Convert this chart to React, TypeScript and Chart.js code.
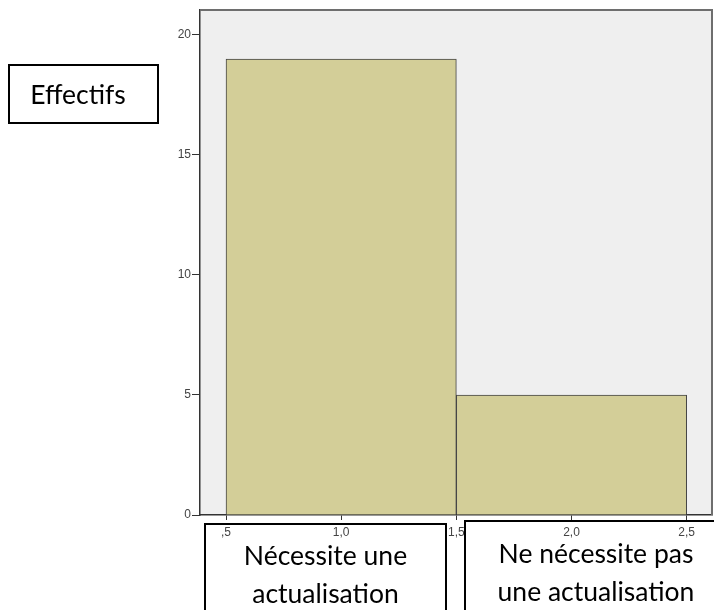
import React, { useEffect, useRef } from "react";
import { Chart, registerables } from "chart.js";

Chart.register(...registerables);

const binCenters = [1, 2];
const counts = [19, 5];
const xTickValues = [0.5, 1, 1.5, 2, 2.5];
const yTickValues = [0, 5, 10, 15, 20];
const xRange = [0.387, 2.61];
const yRange = [0, 21.04];
const yAxisTitle = "Effectifs";
const categoryLabels = [
  ["Nécessite une", "actualisation"],
  ["Ne nécessite pas", "une actualisation"],
];

const fmtX = (v: number) => {
  const s = v.toFixed(1).replace(".", ",");
  return s.startsWith("0") ? s.slice(1) : s;
};

const framePlugin = {
  id: "frame",
  beforeDraw(chart: any) {
    const { ctx, chartArea: a } = chart;
    ctx.save();
    ctx.fillStyle = "#efefef";
    ctx.fillRect(a.left, a.top, a.right - a.left, a.bottom - a.top);
    ctx.restore();
  },
  afterDraw(chart: any) {
    const { ctx, chartArea: a } = chart;
    ctx.save();
    ctx.strokeStyle = "#6e6e6e";
    ctx.lineWidth = 2;
    ctx.beginPath();
    ctx.moveTo(a.left, a.top);
    ctx.lineTo(a.right, a.top);
    ctx.lineTo(a.right, a.bottom);
    ctx.stroke();
    ctx.restore();
  },
};

export default function App() {
  const ref = useRef<HTMLCanvasElement>(null);
  useEffect(() => {
    if (!ref.current) return;
    const tickFont = { family: "Liberation Sans", size: 12 };
    const chart = new Chart(ref.current, {
      type: "bar",
      data: {
        datasets: [
          {
            xAxisID: "xb",
            data: binCenters.map((x, i) => ({ x, y: counts[i] })),
            backgroundColor: "#d3ce98",
            borderColor: "#454545",
            borderWidth: 1,
            barPercentage: 1,
            categoryPercentage: 1,
          },
        ],
      },
      options: {
        animation: false,
        responsive: false,
        layout: { padding: { top: 10, right: 2, left: 0, bottom: 0 } },
        plugins: { legend: { display: false }, tooltip: { enabled: false } },
        scales: {
          xb: {
            type: "linear",
            position: "bottom",
            display: false,
            offset: false,
            min: xRange[0],
            max: xRange[1],
            afterBuildTicks: (s: any) => {
              s.ticks = [];
            },
          },
          x: {
            type: "linear",
            position: "bottom",
            offset: false,
            min: xRange[0],
            max: xRange[1],
            afterBuildTicks: (s: any) => {
              s.ticks = xTickValues.map((v) => ({ value: v }));
            },
            afterFit: (s: any) => {
              s.height = 95;
            },
            grid: {
              display: true,
              offset: false,
              drawOnChartArea: false,
              drawTicks: true,
              tickLength: 5,
              color: "#333",
            },
            border: { display: true, color: "#333", width: 1.5 },
            ticks: {
              autoSkip: false,
              maxRotation: 0,
              padding: 5,
              color: "#444",
              font: tickFont,
              callback: (v: any) => fmtX(Number(v)),
            },
          },
          y: {
            type: "linear",
            min: yRange[0],
            max: yRange[1],
            afterBuildTicks: (s: any) => {
              s.ticks = yTickValues.map((v) => ({ value: v }));
            },
            afterFit: (s: any) => {
              s.width = 200;
            },
            grid: {
              display: true,
              drawOnChartArea: false,
              drawTicks: true,
              tickLength: 8,
              color: "#333",
            },
            border: { display: true, color: "#333", width: 1.5 },
            ticks: {
              padding: 1,
              color: "#444",
              font: tickFont,
            },
          },
        },
      },
      plugins: [framePlugin],
    } as any);
    return () => chart.destroy();
  }, []);

  const boxFont = "Lato, 'Open Sans', sans-serif";
  return (
    <div style={{ position: "absolute", left: 0, top: 0, width: 714, height: 610, overflow: "hidden", background: "#fff" }}>
      <canvas ref={ref} width={714} height={610} style={{ position: "absolute", left: 0, top: 0 }} />
      <div
        style={{
          position: "absolute", left: 8, top: 64, width: 151, height: 60,
          border: "2px solid #000", boxSizing: "border-box", paddingRight: 11,
          fontFamily: boxFont, fontSize: 26.5, lineHeight: "56px", textAlign: "center", color: "#000",
        }}
      >
        {yAxisTitle}
      </div>
      <div
        style={{
          position: "absolute", left: 204, top: 523, width: 243, height: 110,
          border: "2px solid #000", boxSizing: "border-box", paddingTop: 11,
          fontFamily: boxFont, fontSize: 26.5, lineHeight: "38px", textAlign: "center", color: "#000",
        }}
      >
        {categoryLabels[0].map((l, i) => <div key={i} style={{ whiteSpace: "nowrap" }}>{l}</div>)}
      </div>
      <div
        style={{
          position: "absolute", left: 464, top: 520, width: 264, height: 110,
          border: "2px solid #000", boxSizing: "border-box", paddingTop: 12,
          fontFamily: boxFont, fontSize: 26.5, lineHeight: "38px", textAlign: "center", color: "#000",
        }}
      >
        {categoryLabels[1].map((l, i) => <div key={i} style={{ whiteSpace: "nowrap" }}>{l}</div>)}
      </div>
    </div>
  );
}
